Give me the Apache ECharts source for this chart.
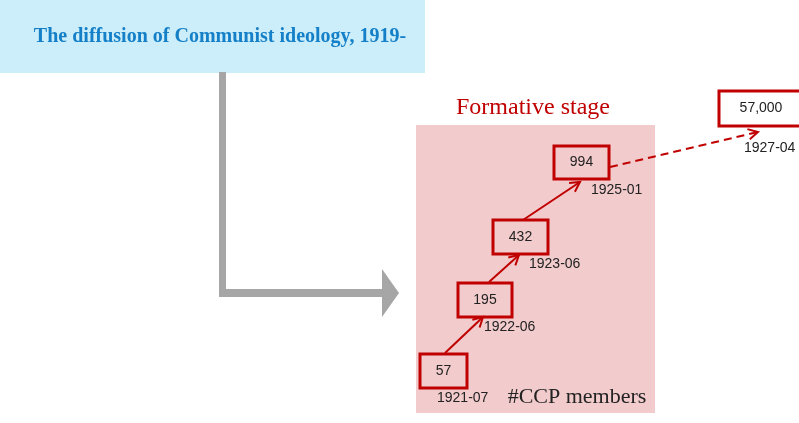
<!DOCTYPE html>
<html>
<head>
<meta charset="utf-8">
<script src="https://cdn.jsdelivr.net/npm/echarts@6/dist/echarts.min.js"></script>
<style>
html,body{margin:0;padding:0;background:#fff;}
#main{width:799px;height:423px;}
</style>
</head>
<body>
<div id="main"></div>
<script>
// data
var members = [57, 195, 432, 994, 57000];
var dates = ['1921-07', '1922-06', '1923-06', '1925-01', '1927-04'];
var titleText = 'The diffusion of Communist ideology, 1919-';
var stageText = 'Formative stage';
var measureText = '#CCP members';

// layout (page pixels): box centre x, centre y, width, height
var boxLayout = [[443.5, 371, 47, 34], [485, 300, 54, 34], [520.5, 237, 55, 34], [581.5, 162.5, 55, 33], [761, 108.5, 84, 35]];
var dateLayout = [[437, 398], [484, 327], [529, 264], [591, 190], [744, 148]];
var arrowLayout = [[445, 353, 483, 317], [489, 282, 519, 255], [523, 220, 580, 182], [610, 167, 758, 132]];

var red = '#c00000';
var myChart = echarts.init(document.getElementById('main'));

function renderBox(params, api) {
    var c = api.coord([api.value(0), api.value(1)]);
    var w = api.value(2), h = api.value(3);
    var i = params.dataIndex;
    var d = api.coord([dateLayout[i][0], dateLayout[i][1]]);
    return {
        type: 'group',
        children: [
            {type: 'rect', shape: {x: c[0] - w / 2, y: c[1] - h / 2, width: w, height: h},
             style: {fill: 'none', stroke: red, lineWidth: 3}},
            {type: 'text', style: {x: c[0], y: c[1], text: echarts.format.addCommas(api.value(4)),
             fill: '#222', font: '14px "Liberation Sans"', align: 'center', verticalAlign: 'middle'}},
            {type: 'text', style: {x: d[0], y: d[1], text: dates[i],
             fill: '#222', font: '14px "Liberation Sans"', align: 'left', verticalAlign: 'middle'}}
        ]
    };
}

function renderArrow(params, api) {
    var a = api.coord([api.value(0), api.value(1)]);
    var b = api.coord([api.value(2), api.value(3)]);
    var ang = Math.atan2(b[1] - a[1], b[0] - a[0]);
    var L = 11, spread = 0.5;
    var p1 = [b[0] - L * Math.cos(ang - spread), b[1] - L * Math.sin(ang - spread)];
    var p2 = [b[0] - L * Math.cos(ang + spread), b[1] - L * Math.sin(ang + spread)];
    var dashed = params.dataIndex === arrowLayout.length - 1;
    return {
        type: 'group',
        children: [
            {type: 'line', shape: {x1: a[0], y1: a[1], x2: b[0], y2: b[1]},
             style: {stroke: red, lineWidth: 2, lineDash: dashed ? [8, 5] : null}},
            {type: 'polyline', shape: {points: [p1, b, p2]},
             style: {stroke: red, lineWidth: 2, fill: 'none'}}
        ]
    };
}

var option = {
    animation: false,
    grid: {left: 0, right: 0, top: 0, bottom: 0},
    xAxis: {type: 'value', min: 0, max: 799, show: false},
    yAxis: {type: 'value', min: 0, max: 423, inverse: true, show: false},
    graphic: [
        {type: 'rect', z: 0, shape: {x: 0, y: 0, width: 425, height: 73}, style: {fill: '#cbeefa'}},
        {type: 'text', z: 1, style: {x: 220, y: 37, text: titleText, fill: '#1580c8',
         font: 'bold 20px "Liberation Serif"', align: 'center', verticalAlign: 'middle'}},
        {type: 'polygon', z: 0, shape: {points: [[219, 72], [226, 72], [226, 289], [382, 289], [382, 269], [399, 293], [382, 317], [382, 297], [219, 297]]},
         style: {fill: '#a6a6a6'}},
        {type: 'rect', z: 0, shape: {x: 416, y: 125, width: 239, height: 288}, style: {fill: '#f2cbcc'}},
        {type: 'text', z: 1, style: {x: 533, y: 108, text: stageText, fill: red,
         font: '24px "Liberation Serif"', align: 'center', verticalAlign: 'middle'}},
        {type: 'text', z: 1, style: {x: 577, y: 397, text: measureText, fill: '#222',
         font: '22px "Liberation Serif"', align: 'center', verticalAlign: 'middle'}}
    ],
    series: [
        {
            type: 'custom',
            clip: false,
            renderItem: renderArrow,
            data: arrowLayout
        },
        {
            type: 'custom',
            clip: false,
            renderItem: renderBox,
            data: members.map(function (v, i) {
                return [boxLayout[i][0], boxLayout[i][1], boxLayout[i][2], boxLayout[i][3], v];
            })
        }
    ]
};

myChart.setOption(option);
</script>
</body>
</html>
